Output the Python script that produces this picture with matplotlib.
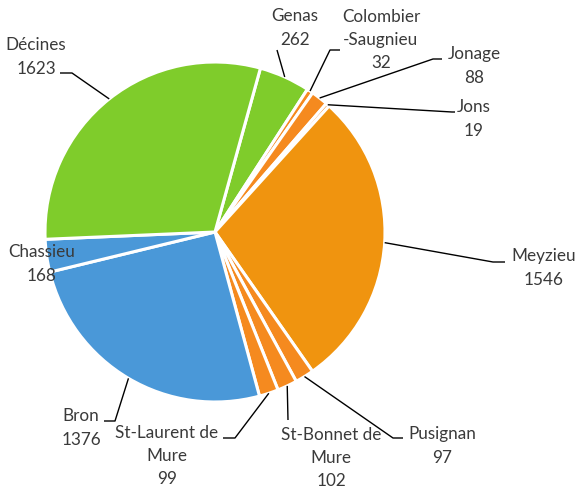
import numpy as np
import matplotlib.pyplot as plt

# Data (clockwise, starting at Genas)
towns = ["Genas", "Colombier\n-Saugnieu", "Jonage", "Jons", "Meyzieu", "Pusignan",
         "St-Bonnet de\nMure", "St-Laurent de\nMure", "Bron", "Chassieu", "Décines"]
counts = [262, 32, 88, 19, 1546, 97, 102, 99, 1376, 168, 1623]
colors = ["#7fcc2b", "#f58a1f", "#f58a1f", "#f58a1f", "#f0940f", "#f58a1f",
          "#f58a1f", "#f58a1f", "#4a98d8", "#4a98d8", "#7fcc2b"]

W, H = 577, 488
cx, cy, R = 215, 232, 170

def py(y):
    return H - y

fig = plt.figure(figsize=(W / 100, H / 100), dpi=100)
ax = fig.add_axes([0, 0, 1, 1])

wedges, _ = ax.pie(counts, colors=colors, startangle=74.5, counterclock=False,
                   center=(cx, py(cy)), radius=R,
                   wedgeprops=dict(edgecolor="white", linewidth=2.2))

ax.set_xlim(0, W)
ax.set_ylim(0, H)
ax.set_aspect("equal")
ax.axis("off")

# label layout: text centre, elbow point, end of horizontal stub (pixels)
label_pos = [(295, 28), (381, 40), (474, 66), (474, 119), (544, 268), (442, 446),
             (331, 458), (167, 456), (81, 428), (42, 264), (36, 57)]
elbows = [(277, 50), (330, 50), (433, 59), (452, 112), (493, 262), (393, 438),
          (288, 420), (235, 438), (115, 421), None, (72, 73)]
stubs = [None, (340, 50), (442, 59), (455, 112), (505, 262), (403, 438),
         None, (223, 438), (104, 421), None, (60, 73)]

tc = "#3a3a3a"
for i, w in enumerate(wedges):
    mid = np.deg2rad((w.theta1 + w.theta2) / 2)
    ax_ = cx + R * np.cos(mid)
    ay_ = cy - R * np.sin(mid)
    tx, ty = label_pos[i]
    ax.text(tx, py(ty), towns[i] + "\n" + str(counts[i]), ha="center", va="center",
            fontsize=12.3, color=tc, family="Lato", linespacing=1.55)
    if elbows[i] is not None:
        xs = [ax_, elbows[i][0]]
        ys = [ay_, elbows[i][1]]
        if stubs[i] is not None:
            xs.append(stubs[i][0])
            ys.append(stubs[i][1])
        ax.plot(xs, [py(v) for v in ys], color="black", lw=1, solid_capstyle="butt")

plt.savefig("out.png", dpi=100)
